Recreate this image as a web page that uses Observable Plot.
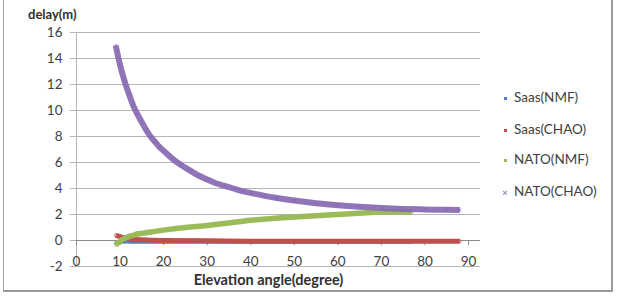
<!DOCTYPE html>
<html>
<head>
<meta charset="utf-8">
<script src="https://cdn.jsdelivr.net/npm/d3@7"></script>
<script src="https://cdn.jsdelivr.net/npm/@observablehq/plot@0.6"></script>
<style>
  html, body { margin: 0; padding: 0; background: #fff; }
  #wrap { position: relative; width: 618px; height: 297px; overflow: hidden; font-family: Lato, "Open Sans", sans-serif; }
  #frame { position: absolute; left: 3px; top: -2px; width: 610px; height: 294px; border: 1px solid #a0a0a0; border-right: 2px solid #9a9a9a; border-bottom: 2px solid #9a9a9a; box-sizing: border-box; pointer-events: none; }
  .legend { position: absolute; left: 502px; font-size: 13.5px; color: #404040; }
  .legend div { position: absolute; left: 0; white-space: nowrap; }
  .legend span.m { display: inline-block; position: absolute; left: 0; }
  .legend span.t { position: absolute; left: 12px; top: 0; }
  #ytitle { position: absolute; left: 28px; top: 6px; font-size: 13px; font-weight: bold; color: #303030; }
  #xtitle { position: absolute; left: 0; width: 537px; text-align: center; top: 271px; font-size: 14.5px; font-weight: bold; color: #303030; }
</style>
</head>
<body>
<div id="wrap"></div>
<script>
const seriesNames = ["Saas(NMF)", "Saas(CHAO)", "NATO(NMF)", "NATO(CHAO)"];
const seriesColors = ["#4F81BD", "#C0504D", "#9BBB59", "#8064A2"];

const xTicks = [0, 10, 20, 30, 40, 50, 60, 70, 80, 90];
const yTicks = [-2, 0, 2, 4, 6, 8, 10, 12, 14, 16];

// Saas(NMF)
const saasNmfElev = [9, 10, 11, 12, 13, 15, 20, 30, 40, 50, 60, 70, 77];
const saasNmfDelay = [-0.2, -0.12, -0.08, -0.08, -0.1, -0.1, -0.1, -0.1, -0.1, -0.1, -0.1, -0.1, -0.1];

// Saas(CHAO)
const saasChaoElev = [9, 10, 11, 12, 13, 15, 20, 30, 40, 50, 60, 70, 80, 88];
const saasChaoDelay = [0.4, 0.3, 0.2, 0.15, 0.1, 0.05, 0.0, -0.02, -0.05, -0.05, -0.05, -0.05, -0.05, -0.05];

// NATO(NMF)
const natoNmfElev = [9, 10, 11, 12, 13, 14, 15, 17, 20, 25, 30, 35, 40, 45, 50, 55, 60, 65, 70, 75, 77];
const natoNmfDelay = [-0.35, -0.05, 0.15, 0.3, 0.4, 0.5, 0.55, 0.65, 0.8, 1.0, 1.15, 1.35, 1.55, 1.7, 1.8, 1.9, 2.0, 2.1, 2.2, 2.2, 2.2];

// NATO(CHAO)
const natoChaoElev = [9, 10, 11, 12, 13, 14, 15, 16, 17, 18, 19, 20, 22, 24, 26, 28, 30, 32, 34, 36, 38, 40, 43, 46, 50, 55, 60, 65, 70, 75, 80, 85, 88];
const natoChaoDelay = [15.0, 13.5, 12.3, 11.3, 10.4, 9.7, 9.1, 8.5, 8.0, 7.6, 7.2, 6.9, 6.3, 5.8, 5.4, 5.0, 4.7, 4.4, 4.2, 4.0, 3.8, 3.66, 3.45, 3.27, 3.07, 2.87, 2.71, 2.59, 2.5, 2.43, 2.39, 2.36, 2.35];

function rows(elev, delay, name) {
  return elev.map((e, i) => ({elev: e, delay: delay[i], series: name}));
}
const dataSets = [
  rows(saasNmfElev, saasNmfDelay, seriesNames[0]),
  rows(saasChaoElev, saasChaoDelay, seriesNames[1]),
  rows(natoNmfElev, natoNmfDelay, seriesNames[2]),
  rows(natoChaoElev, natoChaoDelay, seriesNames[3])
];
const widths = [4, 5, 5.5, 6];
const lineColors = ["#4F81BD", "#C0504D", "#9BBB59", "#8466B0"];

const marks = [
  Plot.ruleY(yTicks, {x1: -1.4, x2: 92.75, stroke: "#b5b5b5", strokeWidth: 1}),
  Plot.ruleX([0], {y1: -2, y2: 16, stroke: "#b5b5b5", strokeWidth: 1}),
  Plot.ruleY([0], {x1: 0, x2: 92.75, stroke: "#8c8c8c", strokeWidth: 1}),
  Plot.ruleX(xTicks, {y1: 0, y2: -0.4, stroke: "#8c8c8c", strokeWidth: 1}),
];
dataSets.forEach((d, i) => {
  marks.push(Plot.line(d, {x: "elev", y: "delay", stroke: lineColors[i], strokeWidth: widths[i], strokeOpacity: i === 3 ? 0.9 : 1, strokeLinecap: "butt", curve: "monotone-x"}));
  marks.push(Plot.dot(d, {x: "elev", y: "delay", stroke: lineColors[i], r: 1.5, symbol: i === 3 ? "times" : "circle", strokeWidth: 1, strokeOpacity: 0.7}));
});
marks.push(Plot.text(yTicks, {x: 0, y: d => d, text: d => String(d), textAnchor: "end", dx: -14, fontSize: 13.5, fill: "#404040"}));
marks.push(Plot.text(xTicks, {x: d => d, y: -2, text: d => String(d), dy: -5, fontSize: 13.5, fill: "#404040"}));

const chart = Plot.plot({
  width: 618,
  height: 297,
  marginLeft: 76,
  marginRight: 138,
  marginTop: 32,
  marginBottom: 31,
  x: {domain: [0, 92.75], axis: null},
  y: {domain: [-2, 16], axis: null},
  style: {fontFamily: "Lato, 'Open Sans', sans-serif", background: "transparent", overflow: "visible"},
  marks
});

const wrap = document.getElementById("wrap");
wrap.appendChild(chart);

const yt = document.createElement("div");
yt.id = "ytitle"; yt.textContent = "delay(m)";
wrap.appendChild(yt);
const xt = document.createElement("div");
xt.id = "xtitle"; xt.textContent = "Elevation angle(degree)";
wrap.appendChild(xt);

const legend = document.createElement("div");
legend.className = "legend";
legend.style.top = "0px";
const legendTops = [89, 121, 151, 183];
seriesNames.forEach((name, i) => {
  const row = document.createElement("div");
  row.style.top = legendTops[i] + "px";
  const m = document.createElement("span");
  m.className = "m";
  if (i === 3) {
    m.textContent = "×";
    m.style.color = seriesColors[i];
    m.style.fontSize = "10px";
    m.style.top = "3px";
  } else {
    m.style.width = "3px"; m.style.height = "3px";
    m.style.background = seriesColors[i];
    m.style.top = "8px"; m.style.left = "2px";
  }
  const t = document.createElement("span");
  t.className = "t"; t.textContent = name;
  row.appendChild(m); row.appendChild(t);
  legend.appendChild(row);
});
wrap.appendChild(legend);

const frame = document.createElement("div");
frame.id = "frame";
wrap.appendChild(frame);
</script>
</body>
</html>
